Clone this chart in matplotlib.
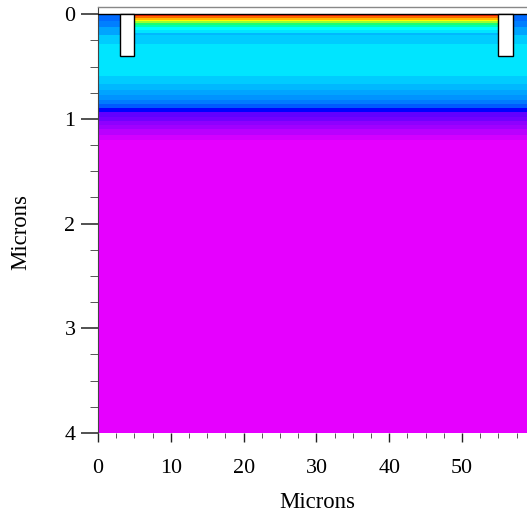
import numpy as np
import matplotlib.pyplot as plt
from matplotlib.colors import LinearSegmentedColormap
from matplotlib.patches import Rectangle
from matplotlib.ticker import MultipleLocator

plt.rcParams['font.family'] = ['Liberation Serif', 'DejaVu Serif']

# band boundaries in depth (microns)
depth_edges = [0, 0.02, 0.035, 0.05, 0.065, 0.08, 0.10, 0.12, 0.145, 0.175, 0.20, 0.285,
               0.588, 0.664, 0.722, 0.77, 0.817, 0.856, 0.891, 0.929,
               0.98, 1.018, 1.056, 1.095, 1.152, 1.20, 4.0]
# colour level of each band, between the fingers
inner_values = [1.0, 0.93, 0.86, 0.80, 0.72, 0.62, 0.52, 0.40, 0.38, 0.345, 0.36, 0.38,
                0.36, 0.345, 0.33, 0.315, 0.295, 0.27, 0.20,
                0.117, 0.103, 0.078, 0.061, 0.04, 0.019, 0.0]
# colour level of each band, outside the fingers
outer_values = [0.285, 0.285, 0.285, 0.285, 0.30, 0.30, 0.30, 0.33, 0.33, 0.33, 0.36, 0.38,
                0.36, 0.345, 0.33, 0.315, 0.295, 0.27, 0.20,
                0.117, 0.103, 0.078, 0.061, 0.04, 0.019, 0.0]

finger_edges = [(3.06, 5.0), (55.0, 56.95)]
finger_depth = 0.4
x_max = 58.93

cmap = LinearSegmentedColormap.from_list('device', [
    (0.0, '#e600ff'), (0.2, '#0000ff'), (0.4, '#00ffff'),
    (0.6, '#00ff80'), (0.8, '#ffff00'), (1.0, '#ff2000')], N=512)

fig = plt.figure(figsize=(5.27, 5.16), dpi=100)
ax = fig.add_axes([98 / 527, 1 - 433 / 516, 429 / 527, 426 / 516])

x_edges = [0, finger_edges[0][0], finger_edges[1][1], x_max]
vals = np.array([outer_values, inner_values, outer_values]).T
ax.pcolormesh(x_edges, depth_edges, vals, cmap=cmap, vmin=0, vmax=1, shading='flat')

ax.axhline(0, color='black', lw=1.0, zorder=3)
for x0, x1 in finger_edges:
    ax.add_patch(Rectangle((x0, 0), x1 - x0, finger_depth, facecolor='white',
                           edgecolor='black', lw=1.0, zorder=4))

ax.set_xlim(0, x_max)
ax.set_ylim(4, -0.07)

ax.xaxis.set_major_locator(MultipleLocator(10))
ax.xaxis.set_minor_locator(MultipleLocator(2.5))
ax.yaxis.set_major_locator(MultipleLocator(1))
ax.yaxis.set_minor_locator(MultipleLocator(0.25))

ax.tick_params(axis='x', which='major', length=6.5, width=1.0, pad=12.5, labelsize=15.8, color='#222222')
ax.tick_params(axis='x', which='minor', length=3.6, width=0.7, color='#555555')
ax.tick_params(axis='y', which='major', length=12.2, width=1.1, pad=4, labelsize=15.8, color='#222222')
ax.tick_params(axis='y', which='minor', length=5.8, width=0.7, color='#555555')

ax.spines['right'].set_visible(False)
ax.spines['bottom'].set_visible(False)
ax.spines['left'].set_linewidth(0.8)
ax.spines['left'].set_color('#444444')
ax.spines['top'].set_linewidth(1.0)
ax.spines['top'].set_color('#888888')

fig.text(317 / 527, 1 - 502 / 516, 'Microns', ha='center', va='center', fontsize=16.4)
fig.text(21 / 527, 1 - 232 / 516, 'Microns', ha='center', va='center', fontsize=16.4, rotation=90)

fig.savefig('out.png', dpi=100)
